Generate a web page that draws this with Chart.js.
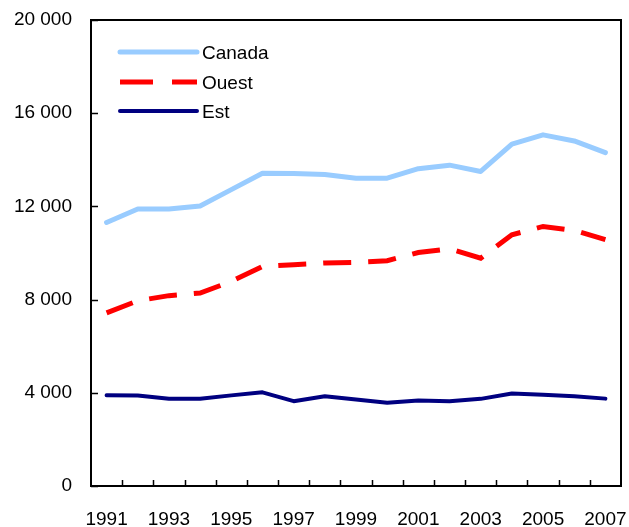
<!DOCTYPE html>
<html><head><meta charset="utf-8">
<script src="https://cdn.jsdelivr.net/npm/chart.js@4/dist/chart.umd.min.js"></script>
<style>html,body{margin:0;padding:0;background:#fff}#wrap{width:629px;height:527px}</style>
</head><body><div id="wrap"><canvas id="c" width="629" height="527"></canvas></div>
<script>
const years = ['1991','1992','1993','1994','1995','1996','1997','1998','1999','2000','2001','2002','2003','2004','2005','2006','2007'];
const canada = [11310,11890,11890,12020,12720,13420,13410,13370,13210,13210,13620,13770,13500,14670,15070,14810,14310];
const ouest = [7430,7950,8170,8280,8780,9420,9500,9570,9600,9670,10020,10180,9780,10780,11140,10970,10570];
const est = [3890,3880,3740,3740,3890,4020,3640,3850,3710,3570,3670,3640,3740,3970,3920,3850,3750];
const yTicks = [0,4000,8000,12000,16000,20000];
const seriesNames = ['Canada','Ouest','Est'];
const FONT = 'Liberation Sans, Arial, Helvetica, sans-serif';

const fmt = v => String(v).replace(/\B(?=(\d{3})+(?!\d))/g, ' ');

const framePlugin = {
  id: 'frame',
  afterDatasetsDraw(chart) {
    const {ctx, chartArea: a, scales: {x, y}} = chart;
    ctx.save();
    ctx.strokeStyle = '#000';
    ctx.lineWidth = 2;
    ctx.strokeRect(a.left, a.top, a.right - a.left, a.bottom - a.top);
    ctx.lineWidth = 1.5;
    ctx.beginPath();
    for (let i = 0; i < years.length - 1; i++) {
      const px = Math.round((x.getPixelForTick(i) + x.getPixelForTick(i + 1)) / 2) + 0.5;
      ctx.moveTo(px, a.bottom); ctx.lineTo(px, a.bottom - 6);
    }
    yTicks.forEach(v => {
      const py = Math.round(y.getPixelForValue(v)) + 0.5;
      ctx.moveTo(a.left, py); ctx.lineTo(a.left + 7, py);
    });
    ctx.stroke();
    // legend
    const rows = [52, 82, 111];
    const legendDash = [[], [33, 19], []];
    ctx.font = '19px ' + FONT;
    ctx.textBaseline = 'middle';
    ctx.fillStyle = '#000';
    chart.data.datasets.forEach((ds, i) => {
      ctx.beginPath();
      ctx.strokeStyle = ds.borderColor;
      ctx.lineWidth = ds.borderWidth;
      ctx.lineCap = ds.borderDash ? 'butt' : 'round';
      ctx.setLineDash(legendDash[i]);
      ctx.moveTo(120, rows[i]); ctx.lineTo(197, rows[i]);
      ctx.stroke();
      ctx.setLineDash([]);
      ctx.fillText(ds.label, 202, rows[i] + 2);
    });
    ctx.restore();
  }
};

new Chart(document.getElementById('c'), {
  type: 'line',
  data: {
    labels: years,
    datasets: [
      {label: seriesNames[0], data: canada, borderColor: '#99CCFF', borderWidth: 5, pointRadius: 0, tension: 0, borderJoinStyle: 'round', borderCapStyle: 'round'},
      {label: seriesNames[1], data: ouest, borderColor: '#FF0000', borderWidth: 5, pointRadius: 0, tension: 0, borderDash: [28, 17]},
      {label: seriesNames[2], data: est, borderColor: '#000080', borderWidth: 4, pointRadius: 0, tension: 0, borderJoinStyle: 'round', borderCapStyle: 'round'}
    ]
  },
  options: {
    responsive: false,
    animation: false,
    layout: {padding: {top: 20, right: 8, left: 0, bottom: 0}},
    plugins: {legend: {display: false}, tooltip: {enabled: false}},
    scales: {
      x: {
        offset: true,
        grid: {display: false, drawTicks: false},
        border: {display: false},
        ticks: {
          autoSkip: false, maxRotation: 0, minRotation: 0, padding: 22,
          color: '#000', font: {family: FONT, size: 19},
          callback: function(v, i) { return i % 2 === 0 ? years[i] : ''; }
        },
        afterFit(s) { s.height = 41; s.paddingLeft = 0; s.paddingRight = 0; }
      },
      y: {
        min: 0, max: 20000,
        grid: {display: false, drawTicks: false},
        border: {display: false},
        afterBuildTicks(s) { s.ticks = yTicks.map(v => ({value: v})); },
        ticks: {
          padding: 19, color: '#000', font: {family: FONT, size: 19},
          callback: v => fmt(v)
        },
        afterFit(s) { s.width = 91; s.paddingTop = 0; s.paddingBottom = 0; }
      }
    }
  },
  plugins: [framePlugin]
});
</script></body></html>
